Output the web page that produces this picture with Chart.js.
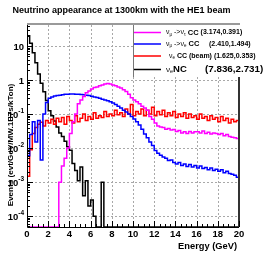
<!DOCTYPE html>
<html>
<head>
<meta charset="utf-8">
<script src="https://cdn.jsdelivr.net/npm/chart.js@4.4.0/dist/chart.umd.min.js"></script>
<style>
  html, body { margin: 0; padding: 0; background: #fff; overflow: hidden; }
</style>
</head>
<body>
<canvas id="c" width="266" height="253"></canvas>
<script>
// histogram bins: 0.25 GeV wide, 0..20 GeV (low edges)
const BIN_WIDTH = 0.25;
const E_MAX = 20;

const xTicks = [0, 2, 4, 6, 8, 10, 12, 14, 16, 18, 20];
const yTicks = [10, 1, 1e-1, 1e-2, 1e-3, 1e-4];
const yTickLabels = ['10', '1', '10^-1', '10^-2', '10^-3', '10^-4'];
const Y_MIN = 4.8e-5;
const Y_MAX = 41.5;

const numuNutauCC = [
  0, 0, 0, 0, 0, 0, 0, 0, 0, 0,
  0, 0, 0.001, 0.003, 0.005, 0.01, 0.027, 0.06, 0.1, 0.2,
  0.26, 0.33, 0.42, 0.48, 0.55, 0.6, 0.63, 0.68, 0.72, 0.76,
  0.79, 0.77, 0.72, 0.68, 0.63, 0.58, 0.52, 0.46, 0.38, 0.3,
  0.26, 0.23, 0.2, 0.17, 0.15, 0.13, 0.085, 0.07, 0.055, 0.045,
  0.042, 0.04, 0.036, 0.038, 0.034, 0.035, 0.031, 0.033, 0.028, 0.03,
  0.027, 0.031, 0.028, 0.03, 0.03, 0.028, 0.032, 0.027, 0.029, 0.026,
  0.028, 0.027, 0.025, 0.027, 0.023, 0.025, 0.022, 0.021, 0.02, 0.019
];
const numuNueCC = [
  0.006, 0.025, 0.06, 0.015, 0.065, 0.0045, 0.1, 0.22, 0.29, 0.32,
  0.34, 0.35, 0.36, 0.37, 0.38, 0.385, 0.39, 0.39, 0.385, 0.38,
  0.375, 0.37, 0.36, 0.35, 0.335, 0.32, 0.305, 0.29, 0.275, 0.26,
  0.245, 0.23, 0.21, 0.19, 0.17, 0.15, 0.13, 0.115, 0.1, 0.085,
  0.072, 0.06, 0.048, 0.036, 0.026, 0.02, 0.015, 0.012, 0.0085, 0.007,
  0.0062, 0.0055, 0.005, 0.0043, 0.0045, 0.0038, 0.0034, 0.0038, 0.0031, 0.0034,
  0.0029, 0.0033, 0.0028, 0.0031, 0.0026, 0.003, 0.0025, 0.0027, 0.0023, 0.0026,
  0.0022, 0.0024, 0.0021, 0.0023, 0.0019, 0.0021, 0.0018, 0.0017, 0.0016, 0.0014
];
const nueBeamCC = [
  0.0015, 0.009, 0.027, 0.04, 0.05, 0.058, 0.045, 0.065, 0.055, 0.07,
  0.05, 0.075, 0.06, 0.08, 0.05, 0.085, 0.065, 0.055, 0.09, 0.06,
  0.075, 0.1, 0.065, 0.085, 0.07, 0.11, 0.075, 0.09, 0.08, 0.12,
  0.085, 0.1, 0.09, 0.13, 0.095, 0.11, 0.085, 0.14, 0.1, 0.19,
  0.09, 0.12, 0.1, 0.14, 0.09, 0.13, 0.1, 0.16, 0.09, 0.12,
  0.095, 0.13, 0.085, 0.11, 0.09, 0.12, 0.08, 0.1, 0.085, 0.11,
  0.075, 0.1, 0.08, 0.09, 0.07, 0.1, 0.075, 0.085, 0.065, 0.09,
  0.07, 0.08, 0.06, 0.085, 0.065, 0.075, 0.055, 0.07, 0.06, 0.065
];
const nuNC = [
  20, 12, 6.3, 3.2, 1.5, 0.8, 0.45, 0.25, 0.125, 0.09,
  0.063, 0.042, 0.028, 0.022, 0.016, 0.011, 0.0087, 0.0035, 0.0022, 0.0011,
  0.0028, 0.0004, 0.0011, 0.0002, 0.0003, 0.0001, 0, 0, 0.001, 0,
  0, 0, 0, 0, 0, 0, 0, 0, 0, 0,
  0, 0, 0, 0, 0, 0, 0, 0, 0, 0,
  0, 0, 0, 0, 0, 0, 0, 0, 0, 0,
  0, 0, 0, 0, 0, 0, 0, 0, 0, 0,
  0, 0, 0, 0, 0, 0, 0, 0, 0, 0
];

// legend rows: [text, font, baseline shift, optional x]
const legendRows = [
  [['ν', '7px'], ['μ', '4.5px', 2], [' ->ν', '7px'], ['τ', '4.5px', 2], [' CC', 'bold 7.5px'], [' (3.174,0.391)', 'bold 7px']],
  [['ν', '7px'], ['μ', '4.5px', 2], [' ->ν', '7px'], ['e', '4.5px', 2], [' CC', 'bold 7.5px'], ['(2.410,1.494)', 'bold 7px', 0, 209]],
  [['ν', '7px', 0, 169], ['e', '4.5px', 2], [' CC (beam) (1.625,0.353)', 'bold 7px']],
  [['ν', '8px'], ['e', '5.5px', 2], ['NC', 'bold 9.5px'], ['(7.836,2.731)', 'bold 9.8px', 0, 205]]
];

const FONT = '"Liberation Sans", Arial, sans-serif';

function histPoints(values) {
  // zero bins sit on the bottom of the frame, as ROOT draws them
  const pts = values.map((v, i) => ({ x: i * BIN_WIDTH, y: v > 0 ? v : Y_MIN }));
  pts.push({ x: E_MAX, y: pts[pts.length - 1].y });
  return pts;
}

function drawRich(ctx, x, y, pieces) {
  for (const [t, f, dy, px] of pieces) {
    if (px !== undefined) x = px;
    ctx.font = f + ' ' + FONT;
    ctx.fillText(t, x, y + (dy || 0));
    x += ctx.measureText(t).width;
  }
}

const rootFrame = {
  id: 'rootFrame',
  beforeDatasetsDraw(chart) {
    const { ctx, chartArea: a, scales: { x, y } } = chart;
    ctx.save();
    ctx.strokeStyle = '#a8a8a8';
    ctx.lineWidth = 1;
    ctx.setLineDash([2, 2]);
    ctx.beginPath();
    xTicks.slice(1, -1).forEach(v => {
      const px = Math.round(x.getPixelForValue(v)) + 0.5;
      ctx.moveTo(px, a.top); ctx.lineTo(px, a.bottom);
    });
    yTicks.forEach(v => {
      const py = Math.round(y.getPixelForValue(v)) + 0.5;
      ctx.moveTo(a.left, py); ctx.lineTo(a.right, py);
    });
    ctx.stroke();
    ctx.restore();
  },
  afterDatasetsDraw(chart) {
    const { ctx, chartArea: a, scales: { x, y } } = chart;
    ctx.save();

    // frame
    ctx.lineWidth = 2;
    ctx.strokeStyle = '#9a9a9a';
    ctx.beginPath(); ctx.moveTo(a.left, a.top - 1); ctx.lineTo(a.right + 1, a.top - 1); ctx.stroke();
    ctx.strokeStyle = '#333';
    ctx.beginPath(); ctx.moveTo(a.right, a.top); ctx.lineTo(a.right, a.bottom); ctx.stroke();
    ctx.lineWidth = 1;
    ctx.strokeStyle = '#000';
    ctx.beginPath();
    ctx.moveTo(a.left + 0.5, a.top); ctx.lineTo(a.left + 0.5, a.bottom + 0.5);
    ctx.lineTo(a.right, a.bottom + 0.5);
    ctx.stroke();

    // ticks (inside the frame)
    ctx.beginPath();
    for (let v = 0; v <= E_MAX; v += 0.5) {
      const px = Math.round(x.getPixelForValue(v)) + 0.5;
      const len = v % 2 === 0 ? 6 : 3;
      ctx.moveTo(px, a.bottom); ctx.lineTo(px, a.bottom - len);
    }
    for (let d = -5; d <= 1; d++) {
      for (let m = 1; m <= 9; m++) {
        const v = m * Math.pow(10, d);
        if (v < Y_MIN || v > Y_MAX) continue;
        const py = Math.round(y.getPixelForValue(v)) + 0.5;
        ctx.moveTo(a.left, py); ctx.lineTo(a.left + (m === 1 ? 6 : 3), py);
      }
    }
    ctx.stroke();

    // tick labels
    ctx.fillStyle = '#000';
    ctx.textBaseline = 'middle';
    ctx.textAlign = 'center';
    ctx.font = 'bold 9.5px ' + FONT;
    xTicks.forEach(v => ctx.fillText(String(v), x.getPixelForValue(v), a.bottom + 7.5));
    ctx.textAlign = 'left';
    yTicks.forEach((v, i) => {
      const [base, exp] = yTickLabels[i].split('^');
      const py = y.getPixelForValue(v);
      ctx.font = 'bold 9.5px ' + FONT;
      const wb = ctx.measureText(base).width;
      let we = 0;
      if (exp) { ctx.font = 'bold 6.5px ' + FONT; we = ctx.measureText(exp).width; }
      const x0 = a.left - 3 - wb - we;
      ctx.font = 'bold 9.5px ' + FONT;
      ctx.fillText(base, x0, py + 1);
      if (exp) { ctx.font = 'bold 6.5px ' + FONT; ctx.fillText(exp, x0 + wb, py - 3); }
    });

    // titles
    ctx.font = 'bold 9px ' + FONT;
    ctx.textAlign = 'left';
    ctx.fillText('Neutrino appearance at 1300km with the HE1 beam', 12.5, 10.5);
    ctx.textAlign = 'right';
    ctx.font = 'bold 9.3px ' + FONT;
    ctx.fillText('Energy (GeV)', a.right - 2, a.bottom + 19.5);
    ctx.save();
    ctx.translate(10.5, 145);
    ctx.rotate(-Math.PI / 2);
    ctx.textAlign = 'center';
    ctx.font = 'bold 8.1px ' + FONT;
    ctx.fillText('Events (evt/GeV/MW.1E7s/kTon)', 0, 0);
    ctx.restore();

    // legend box
    const lx = 133, ly = a.top, lw = 140, lh = 52;
    ctx.fillStyle = '#fff';
    ctx.fillRect(lx, ly, lw, lh);
    ctx.strokeStyle = '#777';
    ctx.lineWidth = 1;
    ctx.beginPath(); ctx.moveTo(lx + 0.5, ly); ctx.lineTo(lx + 0.5, ly + lh); ctx.stroke();
    const rowY = [32.5, 44, 56, 69.5];
    chart.data.datasets.forEach((ds, i) => {
      ctx.strokeStyle = ds.borderColor;
      ctx.lineWidth = 1.5;
      ctx.beginPath(); ctx.moveTo(lx + 1, rowY[i]); ctx.lineTo(lx + 28, rowY[i]); ctx.stroke();
      ctx.fillStyle = '#000';
      ctx.textAlign = 'left';
      drawRich(ctx, 166, rowY[i], legendRows[i]);
    });
    ctx.restore();
  }
};

function series(label, values, color) {
  return {
    label, data: histPoints(values), borderColor: color,
    borderWidth: 1.5, pointRadius: 0, stepped: true, fill: false
  };
}

new Chart(document.getElementById('c'), {
  type: 'line',
  data: {
    datasets: [
      series('νμ->ντ CC', numuNutauCC, '#ff00ff'),
      series('νμ->νe CC', numuNueCC, '#0000ff'),
      series('νe CC (beam)', nueBeamCC, '#ff0000'),
      series('νe NC', nuNC, '#000000')
    ]
  },
  options: {
    responsive: false,
    animation: false,
    devicePixelRatio: 1,
    layout: { padding: { left: 27, top: 25, right: 27, bottom: 26 } },
    scales: {
      x: { type: 'linear', min: 0, max: E_MAX, display: false },
      y: { type: 'logarithmic', min: Y_MIN, max: Y_MAX, display: false }
    },
    plugins: { legend: { display: false }, tooltip: { enabled: false } }
  },
  plugins: [rootFrame]
});
</script>
</body>
</html>
